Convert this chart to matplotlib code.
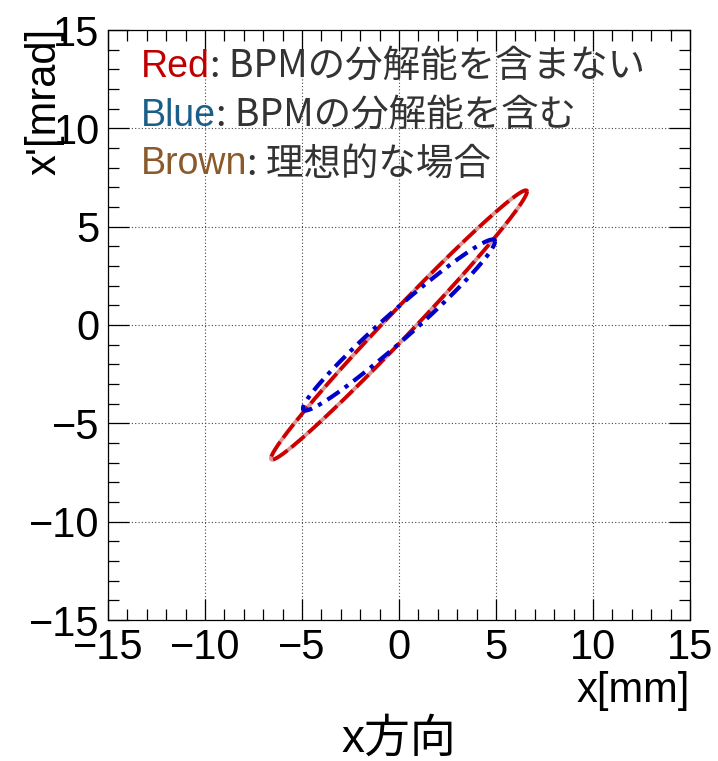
import numpy as np
import matplotlib
matplotlib.use("Agg")
import matplotlib.pyplot as plt
from matplotlib.offsetbox import TextArea, HPacker, VPacker, AnchoredOffsetbox

# ---- data (ellipse parameters) ----
series_names = ["Red", "Blue"]
x_max = [6.6, 4.95]          # largest |x| [mm]
xp_max = [6.85, 4.35]        # largest |x'| [mrad]
xp_at_x0 = [0.95, 0.95]      # |x'| where the ellipse crosses x = 0
line_colors = ["#cc0000", "#0000cc"]

legend_words = ["Red", "Blue", "Brown"]
legend_word_colors = ["#c00000", "#1a5e8a", "#8a5a2a"]
legend_texts = [": BPMの分解能を含まない", ": BPMの分解能を含む", ": 理想的な場合"]

ticks = [-15, -10, -5, 0, 5, 10, 15]
tick_labels = ["\u221215", "\u221210", "\u22125", "0", "5", "10", "15"]

LAT = "Liberation Sans"
CJK = ["Noto Sans CJK JP", "DejaVu Sans"]

fig = plt.figure(figsize=(7.18, 7.61), dpi=100)
ax = fig.add_axes([108/718, 1-620/761, (690-108)/718, (620-30)/761])
ax.set_xlim(-15, 15)
ax.set_ylim(-15, 15)

t = np.linspace(0, 2*np.pi, 721)
for A, B, y0, c, name in zip(x_max, xp_max, xp_at_x0, line_colors, series_names):
    d = np.arcsin(y0 / B)
    xs = A * np.cos(t)
    ys = B * np.cos(t - d)
    if name == "Red":
        ax.plot(xs, ys, color=c, lw=2.8, dashes=(4.5, 1.2), gapcolor="#d49a9a",
                solid_capstyle="butt", zorder=3)
    else:
        ax.plot(xs, ys, color=c, lw=3.0, dashes=(3.5, 1.6, 1.0, 1.6),
                zorder=4)

ax.set_xticks(ticks)
ax.set_xticklabels(tick_labels, fontname=LAT, fontsize=30)
ax.set_yticks(ticks)
ax.set_yticklabels(tick_labels, fontname=LAT, fontsize=30)
ax.set_xticks(np.arange(-15, 16, 1), minor=True)
ax.set_yticks(np.arange(-15, 16, 1), minor=True)
ax.tick_params(which="both", direction="in", top=True, right=True, colors="black",
               width=0.9)
ax.tick_params(which="major", length=15, pad=6)
ax.tick_params(which="minor", length=8)
ax.grid(True, which="major", linestyle=(0, (1, 2)), color="#444444", lw=0.8)
for s in ax.spines.values():
    s.set_linewidth(0.9)

ax.set_xlabel("x[mm]", fontname=LAT, fontsize=30, loc="right", labelpad=2)
fig.text(45/718, 1-28/761, "x'[mrad]", fontname=LAT, fontsize=30,
         rotation=90, ha="center", va="top")

fig.text(399/718, 1-740/761, "x方向", family=[LAT] + CJK, fontsize=33,
         ha="center", va="center")

rows = []
for w, wc, rest in zip(legend_words, legend_word_colors, legend_texts):
    a = TextArea(w, textprops=dict(color=wc, fontsize=27, fontname=LAT))
    b = TextArea(rest, textprops=dict(color="#333333", fontsize=27, family=CJK))
    rows.append(HPacker(children=[a, b], align="baseline", pad=0, sep=0))
box = VPacker(children=rows, align="left", pad=0, sep=7)
anch = AnchoredOffsetbox(loc="upper left", child=box, frameon=False,
                         bbox_to_anchor=(141/718, 1-47/761),
                         bbox_transform=fig.transFigure, borderpad=0, pad=0)
ax.add_artist(anch)

fig.savefig("out.png", dpi=100)
